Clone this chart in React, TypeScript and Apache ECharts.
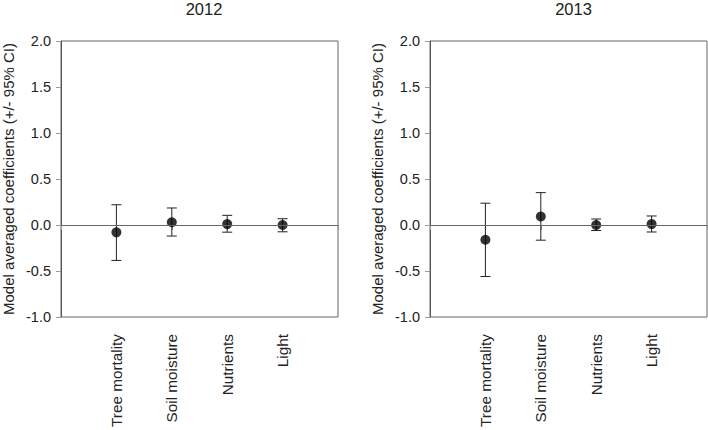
import React, { useEffect, useRef } from "react";
import * as echarts from "echarts";

const categories = ["Tree mortality", "Soil moisture", "Nutrients", "Light"];
const years = ["2012", "2013"];
const est2012 = [-0.08, 0.03, 0.01, 0.0];
const lo2012 = [-0.385, -0.12, -0.078, -0.074];
const hi2012 = [0.22, 0.185, 0.105, 0.068];
const est2013 = [-0.16, 0.092, 0.0, 0.01];
const lo2013 = [-0.56, -0.165, -0.06, -0.076];
const hi2013 = [0.237, 0.352, 0.065, 0.098];
const yTicks = [-1.0, -0.5, 0.0, 0.5, 1.0, 1.5, 2.0];

const FONT = "Liberation Sans, Arial, sans-serif";

export default function App() {
  const ref = useRef<HTMLDivElement>(null);
  useEffect(() => {
    if (!ref.current) return;
    const chart = echarts.init(ref.current, null, { renderer: "svg" });
    const panels = [
      { est: est2012, lo: lo2012, hi: hi2012 },
      { est: est2013, lo: lo2013, hi: hi2013 },
    ];
    const grids = [
      { left: 60, top: 41, width: 278, height: 276 },
      { left: 430, top: 41, width: 277, height: 276 },
    ];
    const xAxes = grids.map((_, i) => ({
      type: "value",
      gridIndex: i,
      min: 0,
      max: 5,
      interval: 1,
      splitLine: { show: false },
      axisLine: { show: true, lineStyle: { color: "#555", width: 1 } },
      axisTick: { show: true, length: 5, lineStyle: { color: "#999" } },
      axisLabel: {
        rotate: 90,
        margin: 17,
        fontSize: 15.3,
        fontFamily: FONT,
        color: "#222",
        formatter: (v: number) => categories[v - 1] ?? "",
      },
    }));
    const yAxes = grids.map((_, i) => ({
      type: "value",
      gridIndex: i,
      min: yTicks[0],
      max: yTicks[yTicks.length - 1],
      interval: 0.5,
      splitLine: { show: false },
      axisLine: { show: true, lineStyle: { color: "#555", width: 1 } },
      axisTick: { show: true, length: 5, lineStyle: { color: "#999" } },
      axisLabel: {
        margin: 10,
        fontSize: 14.5,
        fontFamily: FONT,
        color: "#222",
        formatter: (v: number) => v.toFixed(1),
      },
      name: "Model averaged coefficients (+/- 95% CI)",
      nameLocation: "middle",
      nameGap: 45,
      nameTextStyle: { fontSize: 15, fontFamily: FONT, color: "#222" },
    }));
    const series: any[] = [];
    panels.forEach((p, i) => {
      series.push({
        type: "custom",
        xAxisIndex: i,
        yAxisIndex: i,
        data: categories.map((_, k) => [k + 1, p.lo[k], p.hi[k]]),
        renderItem: (params: any, api: any) => {
          const x = api.value(0);
          const a = api.coord([x, api.value(1)]);
          const b = api.coord([x, api.value(2)]);
          const w = 5;
          const style = { stroke: "#222", lineWidth: 1 };
          return {
            type: "group",
            children: [
              { type: "line", shape: { x1: a[0], y1: a[1], x2: b[0], y2: b[1] }, style },
              { type: "line", shape: { x1: a[0] - w, y1: a[1], x2: a[0] + w, y2: a[1] }, style },
              { type: "line", shape: { x1: b[0] - w, y1: b[1], x2: b[0] + w, y2: b[1] }, style },
            ],
          };
        },
        z: 2,
      });
      series.push({
        type: "scatter",
        xAxisIndex: i,
        yAxisIndex: i,
        symbol: "circle",
        symbolSize: 10,
        itemStyle: { color: "#000" },
        data: categories.map((_, k) => [k + 1, p.est[k]]),
        z: 3,
        markLine: {
          silent: true,
          symbol: "none",
          label: { show: false },
          lineStyle: { color: "#666", width: 1, type: "solid" },
          data: [{ yAxis: 0 }],
        },
      });
    });
    chart.setOption({
      animation: false,
      backgroundColor: "#fff",
      title: years.map((y, i) => ({
        text: y,
        left: grids[i].left + grids[i].width / 2,
        top: -5,
        textAlign: "center",
        textStyle: { fontSize: 16.5, fontWeight: "normal", fontFamily: FONT, color: "#222" },
      })),
      grid: grids.map((g) => ({
        ...g,
        show: true,
        borderColor: "#666",
        borderWidth: 1,
        backgroundColor: "transparent",
      })),
      xAxis: xAxes,
      yAxis: yAxes,
      series,
    });
    return () => chart.dispose();
  }, []);
  return <div ref={ref} style={{ width: 708, height: 430, position: "absolute", left: 0, top: 0 }} />;
}
